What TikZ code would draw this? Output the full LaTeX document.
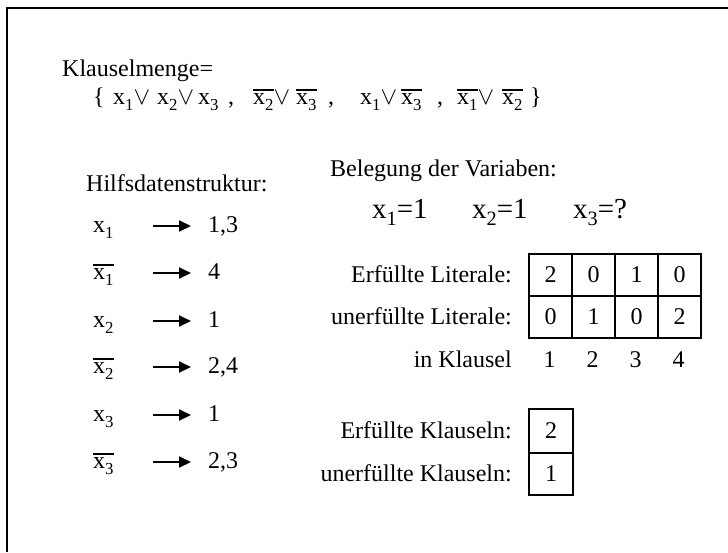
\documentclass[tikz,border=0pt]{standalone}
\usepackage{fontspec}
\setmainfont{Liberation Serif}
\usetikzlibrary{arrows.meta}
\newcommand{\xs}[1]{x\raisebox{-0.25em}{\scalebox{0.7}{#1}}}
\newcommand{\xn}[1]{\leavevmode\vbox{\hrule height 1.9pt\kern 2.4pt\hbox{\xs{#1}}}}
\begin{document}
\begin{tikzpicture}[x=1pt,y=-1pt,
  txt/.style={inner sep=0pt,font=\fontsize{24}{28}\selectfont,anchor=base west},
  lbl/.style={inner sep=0pt,font=\fontsize{24}{28}\selectfont,anchor=base east},
  big/.style={inner sep=0pt,font=\fontsize{29}{34}\selectfont,anchor=base west},
  cell/.style={draw,line width=2pt,minimum width=43pt,minimum height=42pt,inner sep=0pt,font=\fontsize{24}{28}\selectfont,anchor=north west},
  arr/.style={line width=2pt,-{Triangle[length=12pt,width=11pt]}}]
\useasboundingbox (0,0) rectangle (728,552);
\draw[line width=2pt] (7,552) -- (7,8) -- (728,8);

\node[txt] (title) at (62,76) {Klauselmenge=};
\foreach \x/\t [count=\k] in {93/\{, 113/\xs1$\vee$, 157/\xs2$\vee$, 198/\xs3, 228/{,}, 253/\xn2$\vee$, 296/\xn3, 328/{,}, 360/\xs1$\vee$, 401/\xn3, 437/{,}, 457/\xn1$\vee$, 502/\xn2, 530/\}}{
  \node[txt] (c\k) at (\x,104) {\t};
}

\node[txt] (hilfs) at (86,191) {Hilfsdatenstruktur:};

\node[txt] (l1) at (93,232) {\xs1};   \node[txt] (v1) at (208,232) {1,3};
\node[txt] (l2) at (93,279) {\xn1};   \node[txt] (v2) at (208,279) {4};
\node[txt] (l3) at (93,327) {\xs2};   \node[txt] (v3) at (208,327) {1};
\node[txt] (l4) at (93,373) {\xn2};   \node[txt] (v4) at (208,373) {2,4};
\node[txt] (l5) at (93,421) {\xs3};   \node[txt] (v5) at (208,421) {1};
\node[txt] (l6) at (93,468) {\xn3};   \node[txt] (v6) at (208,468) {2,3};
\foreach \i/\y in {1/232,2/279,3/327,4/373,5/421,6/468}{
  \coordinate (s\i) at (153,\y-6);
  \coordinate (e\i) at (191,\y-6);
  \draw[arr] (s\i) -- (e\i);
}

\node[txt] (beleg) at (330,176) {Belegung der Variaben:};
\node[big] (a1) at (372,218) {\xs1=1};
\node[big] (a2) at (472,218) {\xs2=1};
\node[big] (a3) at (573,218) {\xs3=?};

\node[lbl] (erf) at (512,282) {Erfüllte Literale:};
\node[lbl] (unerf) at (512,324) {unerfüllte Literale:};
\foreach \v [count=\j] in {2,0,1,0}{
  \node[cell] (p\j) at (528+43*\j-43,253) {\v};
}
\foreach \v [count=\j] in {0,1,0,2}{
  \node[cell] (q\j) at (528+43*\j-43,295) {\v};
}
\node[lbl] (ink) at (512,367) {in Klausel};
\foreach \j in {1,2,3,4}{
  \node[inner sep=0pt,font=\fontsize{24}{28}\selectfont,anchor=base] (k\j) at (549.5+43*\j-43,367) {\j};
}

\node[lbl] (ek) at (512,438) {Erfüllte Klauseln:};
\node[lbl] (uk) at (512,481) {unerfüllte Klauseln:};
\node[cell,minimum width=44pt,minimum height=44pt] (ek1) at (528,408) {2};
\node[cell,minimum width=44pt,minimum height=42pt] (uk1) at (528,452) {1};
\end{tikzpicture}
\end{document}
